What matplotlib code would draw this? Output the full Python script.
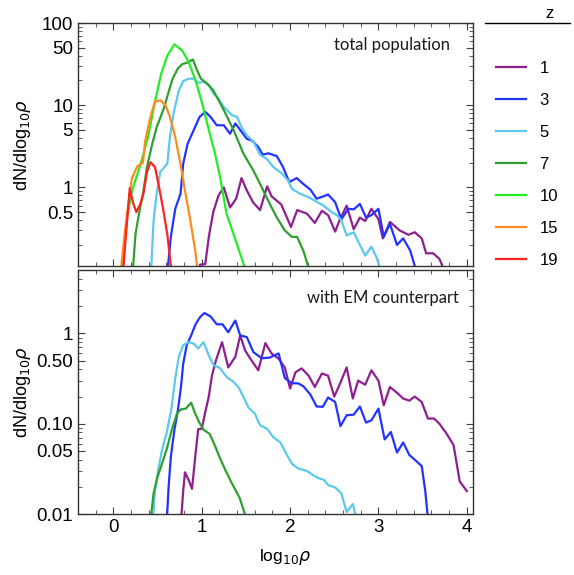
import matplotlib
matplotlib.use('Agg')
import matplotlib.pyplot as plt
from matplotlib.lines import Line2D
from matplotlib.ticker import FixedLocator, NullFormatter

plt.rcParams['font.family'] = ['Liberation Sans', 'DejaVu Sans']

# ---- data: top panel (total population) ----
x1_top = [0.95, 0.98, 1.04, 1.08, 1.13, 1.19, 1.25, 1.32, 1.39, 1.45, 1.51, 1.58, 1.66, 1.74, 1.79,
          1.90, 2.01, 2.08, 2.19, 2.28, 2.36, 2.43, 2.51, 2.56, 2.64, 2.72, 2.79, 2.85, 2.92, 3.00,
          3.05, 3.13, 3.24, 3.34, 3.41, 3.49, 3.54, 3.62, 3.69, 3.78]
y1_top = [0.07, 0.115, 0.117, 0.25, 0.50, 0.80, 1.0, 0.57, 0.73, 1.3, 0.92, 0.66, 0.53, 1.03, 0.78,
          0.62, 0.33, 0.53, 0.48, 0.37, 0.52, 0.46, 0.29, 0.40, 0.60, 0.31, 0.43, 0.39, 0.55, 0.41,
          0.24, 0.38, 0.30, 0.265, 0.285, 0.24, 0.158, 0.158, 0.135, 0.08]

x3_top = [0.60, 0.65, 0.70, 0.76, 0.79, 0.84, 0.91, 0.975, 1.04, 1.10, 1.17, 1.25, 1.32, 1.38, 1.435,
          1.51, 1.57, 1.64, 1.69, 1.755, 1.85, 1.92, 1.99, 2.075, 2.15, 2.23, 2.30, 2.38, 2.43, 2.51,
          2.58, 2.66, 2.72, 2.79, 2.86, 2.92, 3.00, 3.06, 3.13, 3.21, 3.28, 3.36, 3.45]
y3_top = [0.07, 0.25, 0.55, 0.84, 1.94, 3.4, 5.0, 7.2, 8.3, 7.2, 5.7, 5.7, 4.5, 6.0, 5.0,
          3.9, 3.7, 3.1, 2.5, 2.6, 2.4, 1.77, 1.16, 1.3, 1.1, 0.94, 0.73, 0.78, 0.82, 0.66,
          0.41, 0.55, 0.54, 0.63, 0.43, 0.46, 0.55, 0.25, 0.36, 0.20, 0.24, 0.17, 0.08]

x5_top = [0.42, 0.455, 0.49, 0.53, 0.61, 0.64, 0.68, 0.74, 0.79, 0.85, 0.91, 0.96, 1.02, 1.08, 1.13,
          1.19, 1.25, 1.34, 1.40, 1.45, 1.51, 1.585, 1.66, 1.74, 1.81, 1.91, 1.98, 2.02, 2.11, 2.21,
          2.28, 2.38, 2.47, 2.53, 2.58, 2.64, 2.72, 2.79, 2.85, 2.92, 2.98, 3.05]
y5_top = [0.07, 0.40, 0.84, 1.54, 1.94, 4.1, 7.9, 15, 19.6, 21, 21, 18.7, 19.2, 17.5, 14,
          12, 9.5, 7.6, 7.2, 5.4, 4.3, 3.6, 2.5, 2.2, 1.77, 1.47, 1.2, 0.96, 0.84, 0.76,
          0.69, 0.60, 0.50, 0.46, 0.40, 0.26, 0.285, 0.20, 0.148, 0.19, 0.14, 0.08]

x7_top = [0.21, 0.25, 0.29, 0.335, 0.38, 0.44, 0.49, 0.57, 0.625, 0.67, 0.73, 0.78, 0.84, 0.90, 0.945,
          0.99, 1.06, 1.13, 1.25, 1.36, 1.47, 1.585, 1.68, 1.77, 1.85, 1.94, 2.02, 2.08, 2.15, 2.26]
y7_top = [0.07, 0.27, 0.48, 0.84, 1.77, 3.4, 5.4, 9.1, 14.5, 21, 28, 31.6, 33, 36, 27,
          21, 18.4, 15.2, 8.7, 5.0, 2.6, 1.6, 1.0, 0.63, 0.43, 0.30, 0.25, 0.25, 0.17, 0.07]

x10_top = [0.09, 0.15, 0.21, 0.31, 0.39, 0.47, 0.54, 0.61, 0.69, 0.78, 0.85, 0.93, 1.00, 1.08,
           1.15, 1.21, 1.28, 1.36, 1.47, 1.52]
y10_top = [0.07, 0.40, 0.9, 1.96, 4.0, 11, 24, 40, 55, 46, 34, 20, 11, 5, 2.6, 1.3, 0.48, 0.27,
           0.12, 0.08]

x15_top = [0.07, 0.136, 0.21, 0.27, 0.335, 0.36, 0.42, 0.47, 0.53, 0.59, 0.64, 0.70, 0.76, 0.81,
           0.87, 0.93, 0.96]
y15_top = [0.07, 0.33, 1.3, 1.8, 2.0, 3.7, 7.2, 11, 11.5, 10, 7.2, 4.1, 1.9, 0.92, 0.40, 0.16, 0.08]

x19_top = [0.10, 0.136, 0.185, 0.22, 0.26, 0.305, 0.34, 0.38, 0.42, 0.47, 0.51, 0.56, 0.61, 0.66]
y19_top = [0.07, 0.22, 0.98, 0.66, 0.50, 0.63, 0.84, 1.54, 2.03, 1.77, 1.1, 0.57, 0.27, 0.09]

# ---- data: bottom panel (with EM counterpart) ----
x1_bot = [0.76, 0.79, 0.81, 0.85, 0.89, 0.93, 0.96, 1.00, 1.04, 1.08, 1.115, 1.16, 1.23, 1.30, 1.38,
          1.435, 1.49, 1.55, 1.64, 1.72, 1.79, 1.87, 1.94, 2.00, 2.06, 2.13, 2.21, 2.28, 2.36, 2.43,
          2.50, 2.56, 2.64, 2.71, 2.77, 2.85, 2.92, 3.00, 3.06, 3.13, 3.21, 3.28, 3.35, 3.41, 3.49,
          3.56, 3.63, 3.69, 3.77, 3.85, 3.92, 4.00]
y1_bot = [0.007, 0.018, 0.029, 0.024, 0.019, 0.047, 0.087, 0.088, 0.135, 0.20, 0.34, 0.50, 0.80, 0.42, 0.55,
          0.95, 0.65, 0.525, 0.39, 0.78, 0.60, 0.525, 0.42, 0.245, 0.37, 0.41, 0.34, 0.255, 0.36, 0.34,
          0.20, 0.27, 0.42, 0.19, 0.30, 0.27, 0.39, 0.30, 0.16, 0.255, 0.22, 0.19, 0.18, 0.20, 0.174,
          0.114, 0.114, 0.10, 0.078, 0.058, 0.023, 0.018]

x3_bot = [0.60, 0.625, 0.65, 0.69, 0.73, 0.765, 0.79, 0.83, 0.88, 0.93, 0.98, 1.03, 1.10, 1.17, 1.235,
          1.30, 1.38, 1.435, 1.51, 1.585, 1.68, 1.77, 1.87, 1.94, 2.02, 2.09, 2.15, 2.23, 2.30, 2.37,
          2.43, 2.51, 2.57, 2.64, 2.72, 2.79, 2.86, 2.92, 3.00, 3.07, 3.14, 3.21, 3.28, 3.35, 3.41,
          3.49, 3.53, 3.57]
y3_bot = [0.007, 0.020, 0.043, 0.085, 0.141, 0.255, 0.46, 0.74, 0.95, 1.26, 1.51, 1.68, 1.54, 1.26, 1.26,
          1.03, 1.39, 0.95, 0.91, 0.62, 0.53, 0.54, 0.60, 0.32, 0.28, 0.28, 0.26, 0.21, 0.155, 0.154,
          0.195, 0.174, 0.094, 0.124, 0.126, 0.155, 0.103, 0.109, 0.147, 0.067, 0.081, 0.048, 0.062,
          0.045, 0.040, 0.034, 0.018, 0.007]

x5_bot = [0.44, 0.47, 0.51, 0.55, 0.605, 0.66, 0.70, 0.74, 0.79, 0.85, 0.91, 0.96, 1.02, 1.08, 1.13,
          1.21, 1.28, 1.36, 1.42, 1.47, 1.53, 1.60, 1.66, 1.74, 1.81, 1.89, 1.94, 2.02, 2.09, 2.19,
          2.26, 2.32, 2.38, 2.43, 2.51, 2.58, 2.64, 2.71, 2.78]
y5_bot = [0.007, 0.018, 0.032, 0.051, 0.081, 0.153, 0.32, 0.55, 0.74, 0.80, 0.77, 0.68, 0.80, 0.57, 0.45,
          0.41, 0.33, 0.29, 0.25, 0.20, 0.15, 0.13, 0.096, 0.088, 0.071, 0.062, 0.050, 0.036, 0.032, 0.030,
          0.027, 0.025, 0.024, 0.021, 0.0197, 0.017, 0.0105, 0.0129, 0.007]

x7_bot = [0.41, 0.455, 0.50, 0.55, 0.605, 0.66, 0.72, 0.765, 0.82, 0.88, 0.925, 0.975, 1.02, 1.09,
          1.14, 1.20, 1.265, 1.34, 1.43, 1.52]
y7_bot = [0.007, 0.017, 0.026, 0.036, 0.053, 0.085, 0.13, 0.144, 0.147, 0.171, 0.13, 0.102, 0.086,
          0.077, 0.060, 0.043, 0.031, 0.022, 0.015, 0.008]

z_labels = ['1', '3', '5', '7', '10', '15', '19']
colors = ['#8e1f8e', '#2233ff', '#5cc8ee', '#2fa02f', '#22ee22', '#ff8a1e', '#ff2222']

top_series = [(x1_top, y1_top), (x3_top, y3_top), (x5_top, y5_top), (x7_top, y7_top),
              (x10_top, y10_top), (x15_top, y15_top), (x19_top, y19_top)]
bot_series = [(x1_bot, y1_bot), (x3_bot, y3_bot), (x5_bot, y5_bot), (x7_bot, y7_bot)]

fig = plt.figure(figsize=(5.74, 5.75), dpi=100)
ax_top = fig.add_axes([0.136, 0.537, 0.688, 0.423])
ax_bot = fig.add_axes([0.136, 0.106, 0.688, 0.424])

handles = []
for (xs, ys), c, lab in zip(top_series, colors, z_labels):
    ln, = ax_top.plot(xs, ys, color=c, lw=1.6, label=lab)
    handles.append(ln)
for (xs, ys), c in zip(bot_series, colors):
    ax_bot.plot(xs, ys, color=c, lw=1.6)

for ax in (ax_top, ax_bot):
    ax.set_yscale('log')
    ax.set_xlim(-0.40, 4.07)
    ax.xaxis.set_major_locator(FixedLocator([0, 1, 2, 3, 4]))
    ax.xaxis.set_minor_locator(FixedLocator([i * 0.2 for i in range(-2, 21)]))
    ax.tick_params(which='both', direction='in', top=True, right=True, labelsize=13.5, color='0.25')
    ax.tick_params(which='major', length=5)
    ax.tick_params(which='minor', length=3)
    for sp in ax.spines.values():
        sp.set_color('0.2')
        sp.set_linewidth(1.0)

# top panel axes
ax_top.set_ylim(0.11, 100)
ax_top.yaxis.set_major_locator(FixedLocator([0.5, 1, 5, 10, 50, 100]))
ax_top.set_yticklabels(['0.5', '1', '5', '10', '50', '100'])
ax_top.yaxis.set_minor_locator(FixedLocator([0.2, 0.3, 0.4, 0.6, 0.7, 0.8, 0.9, 2, 3, 4, 6, 7, 8, 9,
                                             20, 30, 40, 60, 70, 80, 90]))
ax_top.yaxis.set_minor_formatter(NullFormatter())
ax_top.tick_params(axis='x', labelbottom=False)
ax_top.set_ylabel(r'dN/dlog$_{10}\rho$', fontsize=13)
ax_top.yaxis.set_label_coords(-0.115, 0.5)
ax_top.text(0.942, 0.909, 'total population', transform=ax_top.transAxes, ha='right', va='center',
            fontsize=12, family='Lato', color='0.1')

# bottom panel axes
ax_bot.set_ylim(0.01, 5)
ax_bot.yaxis.set_major_locator(FixedLocator([0.01, 0.05, 0.1, 0.5, 1]))
ax_bot.set_yticklabels(['0.01', '0.05', '0.10', '0.50', '1'])
ax_bot.yaxis.set_minor_locator(FixedLocator([0.02, 0.03, 0.04, 0.06, 0.07, 0.08, 0.09,
                                             0.2, 0.3, 0.4, 0.6, 0.7, 0.8, 0.9, 2, 3, 4]))
ax_bot.yaxis.set_minor_formatter(NullFormatter())
ax_bot.set_ylabel(r'dN/dlog$_{10}\rho$', fontsize=13)
ax_bot.yaxis.set_label_coords(-0.115, 0.5)
ax_bot.set_xlabel(r'log$_{10}\rho$', fontsize=12.5)
ax_bot.xaxis.set_label_coords(0.524, -0.135)
ax_bot.text(0.965, 0.885, 'with EM counterpart', transform=ax_bot.transAxes, ha='right', va='center',
            fontsize=12, family='Lato', color='0.1')

# legend with title "z" and a rule under it
fig.text(550 / 574, 1 - 13 / 575, 'z', ha='center', va='center', fontsize=12)
fig.add_artist(Line2D([485 / 574, 570 / 574], [1 - 23 / 575, 1 - 23 / 575],
                      transform=fig.transFigure, color='k', lw=1))
fig.legend(handles=handles, labels=z_labels, loc='upper left',
           bbox_to_anchor=(496 / 574, 1 - 61 / 575), frameon=False, fontsize=12,
           handlelength=1.8, handletextpad=0.8, labelspacing=1.02, borderpad=0, borderaxespad=0)

fig.savefig('out.png', dpi=100)
